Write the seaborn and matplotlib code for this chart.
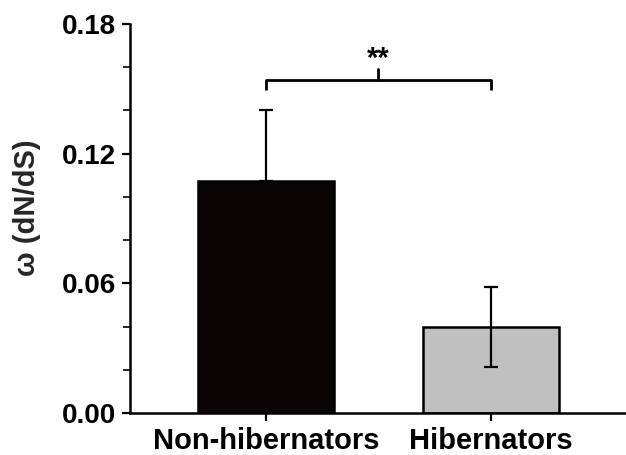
import matplotlib
matplotlib.use("Agg")
import matplotlib.pyplot as plt
import seaborn as sns
import pandas as pd
import numpy as np
from matplotlib.ticker import MultipleLocator

categories = ["Non-hibernators", "Hibernators"]
means = [0.1073, 0.0398]
errors = [0.0330, 0.0185]
bar_colors = ["#0a0606", "#c0c0c0"]
yticks = [0.00, 0.06, 0.12, 0.18]
ytick_labels = ["0.00", "0.06", "0.12", "0.18"]
sig_label = "**"

sns.set_theme(style="white")
plt.rcParams['font.family'] = ['Liberation Sans', 'DejaVu Sans']

df = pd.DataFrame({"group": categories, "omega": means})

fig = plt.figure(figsize=(6.26, 4.55), dpi=100)
ax = fig.add_axes([0.2077, 0.0923, 0.7923, 0.855])

sns.barplot(data=df, x="group", y="omega", hue="group", palette=bar_colors,
            width=0.604, edgecolor="black", linewidth=1.8, legend=False, ax=ax,
            errorbar=None, saturation=1)

for p in ax.patches:
    p.set_zorder(2)
ax.errorbar([0, 1], means, yerr=[[0, errors[1]], errors], fmt="none", ecolor="black",
            elinewidth=1.6, capsize=5, capthick=1.6, zorder=3)

ax.set_xlim(-0.604, 1.6)
ax.set_ylim(0, 0.18)
ax.set_yticks(yticks)
ax.set_yticklabels(ytick_labels)
ax.yaxis.set_minor_locator(MultipleLocator(0.02))

for s in ["top", "right"]:
    ax.spines[s].set_visible(False)
for s in ["left", "bottom"]:
    ax.spines[s].set_linewidth(1.8)
    ax.spines[s].set_color("black")

ax.tick_params(axis="y", which="major", direction="out", length=6, width=1.6,
               labelsize=20, pad=4, left=True, colors="black")
ax.tick_params(axis="y", which="minor", direction="out", length=5, width=1.4, left=True)
ax.tick_params(axis="x", which="major", direction="out", length=6, width=1.6,
               labelsize=21, pad=4, bottom=True, colors="black")
for lab in ax.get_xticklabels() + ax.get_yticklabels():
    lab.set_fontweight("bold")

ax.set_xlabel("")
ax.set_ylabel("ω (dN/dS)", fontsize=21, fontweight="bold")
ax.yaxis.set_label_coords(-0.18, 0.527)

# significance bracket
y_br = 0.1541
y_end = 0.1495
y_tip = 0.159
ax.plot([0, 0, 1, 1], [y_end, y_br, y_br, y_end], color="black", lw=2.0,
        clip_on=False, solid_capstyle="butt")
ax.plot([0.5, 0.5], [y_br, y_tip], color="black", lw=2.0, clip_on=False)
ax.text(0.5, 0.1603, sig_label, ha="center", va="baseline", fontsize=21,
        fontweight="bold", color="black")

fig.savefig("out.png", dpi=100)
